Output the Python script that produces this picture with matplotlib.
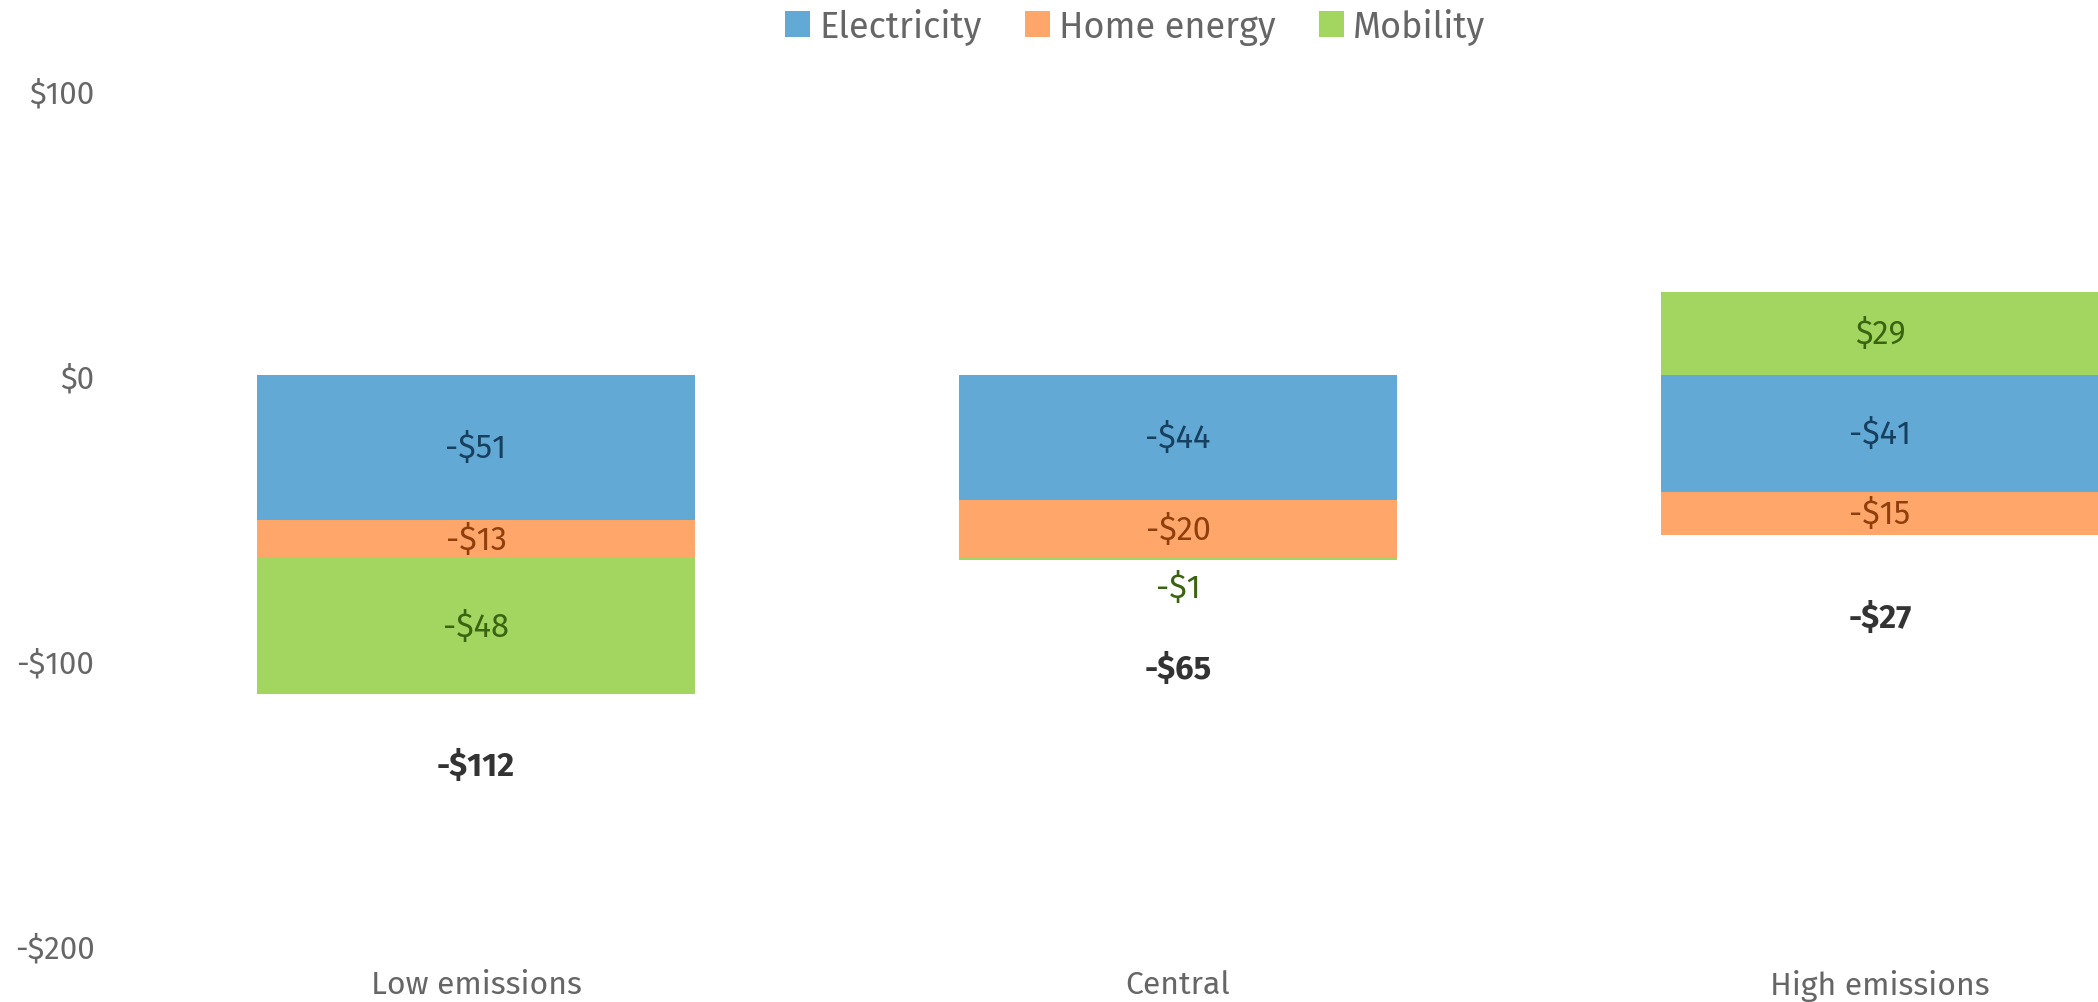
import matplotlib
matplotlib.use("Agg")
import matplotlib.pyplot as plt
from matplotlib.patches import Patch
import numpy as np

categories = ["Low emissions", "Central", "High emissions"]
series_names = ["Electricity", "Home energy", "Mobility"]
electricity = [-51, -44, -41]
home_energy = [-13, -20, -15]
mobility = [-48, -1, 29]
totals = [-112, -65, -27]
yticks = [100, 0, -100, -200]

colors = ["#63A9D6", "#FFA66A", "#A2D660"]
label_colors = ["#16405E", "#8F3F0C", "#3A6410"]
FONT = ["Fira Sans", "Open Sans", "DejaVu Sans"]
plt.rcParams["font.family"] = FONT

fig = plt.figure(figsize=(20.98, 10.03), dpi=100)
ax = fig.add_axes([125 / 2098, 1 - 946 / 1003, 1 - 125 / 2098, (946 - 91) / 1003])

x = np.arange(len(categories))
width = 0.625
series = [electricity, home_energy, mobility]

pos_base = np.zeros(len(categories))
neg_base = np.zeros(len(categories))
for s, vals, c, lc in zip(series_names, series, colors, label_colors):
    vals = np.array(vals, dtype=float)
    base = np.where(vals >= 0, pos_base, neg_base)
    ax.bar(x, vals, width, bottom=base, color=c, label=s, linewidth=0)
    for i, v in enumerate(vals):
        txt = f"-${abs(int(v))}" if v < 0 else f"${int(v)}"
        if abs(v) < 5:
            ax.annotate(txt, (x[i], base[i] + v), xytext=(0, -27 * 0.72), textcoords="offset points",
                        ha="center", va="center", fontsize=23.5, color=lc)
        else:
            ax.text(x[i], base[i] + v / 2, txt, ha="center", va="center", fontsize=23.5, color=lc)
    pos_base = pos_base + np.where(vals >= 0, vals, 0)
    neg_base = neg_base + np.where(vals < 0, vals, 0)

total_offsets_px = [72, 108, 83]
for i, t in enumerate(totals):
    ax.annotate(f"-${abs(t)}" if t < 0 else f"${t}", (x[i], neg_base[i]),
                xytext=(0, -total_offsets_px[i] * 0.72), textcoords="offset points",
                ha="center", va="center", fontsize=23.5, fontweight="bold", color="#333333")

ax.set_ylim(-200, 100)
ax.set_xlim(-0.5, -0.5 + (2098 - 125) / 702)
ax.set_yticks(yticks)
ax.set_yticklabels([f"-${abs(v)}" if v < 0 else f"${v}" for v in yticks], fontsize=22.5)
ax.set_xticks(x)
ax.set_xticklabels(categories, fontsize=23)
ax.tick_params(axis="both", length=0, labelcolor="#666666")
ax.tick_params(axis="y", pad=22)
ax.tick_params(axis="x", pad=17)
for sp in ax.spines.values():
    sp.set_visible(False)

handles = [Patch(facecolor=c, edgecolor="none") for c in colors]
fig.legend(handles, series_names, loc="center", bbox_to_anchor=(1135 / 2098, 1 - 27 / 1003),
           ncol=3, frameon=False, fontsize=26, labelcolor="#666666",
           handlelength=0.7, handleheight=0.7, handletextpad=0.25, columnspacing=1.2)

fig.savefig("out.png", dpi=100)
